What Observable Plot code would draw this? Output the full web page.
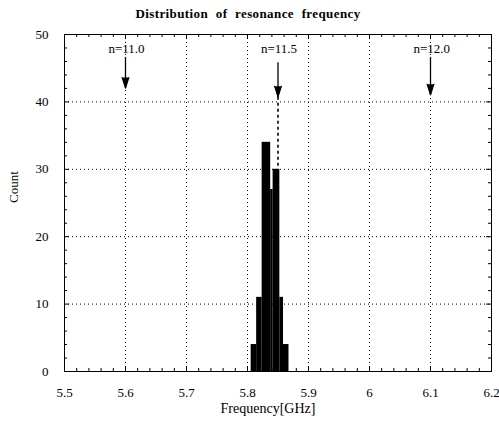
<!DOCTYPE html>
<html>
<head>
<meta charset="utf-8">
<script src="https://cdn.jsdelivr.net/npm/d3@7"></script>
<script src="https://cdn.jsdelivr.net/npm/@observablehq/plot@0.6"></script>
<style>
  html, body { margin: 0; padding: 0; background: #fff; }
  #chart svg { font-family: "Liberation Serif", "DejaVu Serif", serif; }
  #chart svg .title-text text { letter-spacing: 0.4px; word-spacing: 4px; }
</style>
</head>
<body>
<div id="chart"></div>
<script>
// ---- data ----
const title = "Distribution of resonance frequency";
const xLabel = "Frequency[GHz]";
const yLabel = "Count";
const binStart = [5.806, 5.815, 5.824, 5.838, 5.842, 5.853, 5.859];
const binEnd   = [5.815, 5.824, 5.838, 5.842, 5.853, 5.859, 5.868];
const counts   = [4, 11, 34, 27, 30, 11, 4];
const arrowLabels = ["n=11.0", "n=11.5", "n=12.0"];
const arrowX      = [5.6, 5.85, 6.1];
const arrowTop    = [46.6, 45.8, 46.6];
const arrowTip    = [42.0, 40.7, 41.0];
const xTicks = [5.5, 5.6, 5.7, 5.8, 5.9, 6.0, 6.1, 6.2];
const yTicks = [0, 10, 20, 30, 40, 50];
const xGrid = [5.6, 5.7, 5.8, 5.9, 6.0, 6.1];
const yGrid = [10, 20, 30, 40];
const xMinor = d3.range(0, 36).map(i => +(5.5 + i * 0.02).toFixed(2)).filter(v => !xTicks.some(t => Math.abs(t - v) < 1e-9));
const yMinor = d3.range(0, 26).map(i => i * 2).filter(v => v % 10 !== 0);

const bins = binStart.map((s, i) => ({x1: s, x2: binEnd[i], count: counts[i]}));
const arrows = arrowLabels.map((l, i) => ({label: l, x: arrowX[i], top: arrowTop[i], tip: arrowTip[i]}));

const W = 499, H = 432;
const mL = 64, mR = 8, mT = 34, mB = 61;
const pxX = (W - mL - mR) / 0.7;   // px per GHz
const pxY = (H - mT - mB) / 50;    // px per count
const tMaj = 5, tMin = 3;

const chart = Plot.plot({
  width: W, height: H,
  marginLeft: mL, marginRight: mR, marginTop: mT, marginBottom: mB,
  style: {fontFamily: "Liberation Serif, serif", fontSize: "13px", color: "black", background: "white"},
  x: {domain: [5.5, 6.2]},
  y: {domain: [0, 50]},
  marks: [
    // grid
    Plot.ruleX(xGrid, {x: d => d, stroke: "black", strokeWidth: 1, strokeDasharray: "1,3"}),
    Plot.ruleY(yGrid, {y: d => d, stroke: "black", strokeWidth: 1, strokeDasharray: "1,3"}),
    // histogram
    Plot.rectY(bins, {x1: "x1", x2: "x2", y: "count", fill: "black"}),
    // dashed line at n=11.5 down to bars
    Plot.ruleX([arrows[1]], {x: "x", y1: "tip", y2: d => counts[4], stroke: "black", strokeWidth: 1.6, strokeDasharray: "3,3"}),
    // arrows
    Plot.ruleX(arrows, {x: "x", y1: "top", y2: "tip", stroke: "black", strokeWidth: 1.3}),
    Plot.vector(arrows, {x: "x", y: "tip", length: 11, rotate: 180, anchor: "end", shape: "spike", r: 3.5, fill: "black", stroke: "black", strokeWidth: 1}),
    Plot.text(arrows, {x: "x", y: 47.9, text: "label", textAnchor: "start", dx: -17, fontSize: 13}),
    // inward ticks
    Plot.ruleX(xTicks, {x: d => d, y1: 0, y2: tMaj / pxY, stroke: "black"}),
    Plot.ruleX(xTicks, {x: d => d, y1: 50, y2: 50 - tMaj / pxY, stroke: "black"}),
    Plot.ruleX(xMinor, {x: d => d, y1: 0, y2: tMin / pxY, stroke: "black"}),
    Plot.ruleX(xMinor, {x: d => d, y1: 50, y2: 50 - tMin / pxY, stroke: "black"}),
    Plot.ruleY(yTicks, {y: d => d, x1: 5.5, x2: 5.5 + tMaj / pxX, stroke: "black"}),
    Plot.ruleY(yTicks, {y: d => d, x1: 6.2, x2: 6.2 - tMaj / pxX, stroke: "black"}),
    Plot.ruleY(yMinor, {y: d => d, x1: 5.5, x2: 5.5 + tMin / pxX, stroke: "black"}),
    Plot.ruleY(yMinor, {y: d => d, x1: 6.2, x2: 6.2 - tMin / pxX, stroke: "black"}),
    // axes (labels only)
    Plot.axisX({ticks: xTicks, tickSize: 0, tickPadding: 16, tickFormat: d => String(d), label: null, fontSize: 13}),
    Plot.axisY({ticks: yTicks, tickSize: 0, tickPadding: 16, label: null, fontSize: 13}),
    // axis titles and chart title
    Plot.text([xLabel], {frameAnchor: "bottom", text: d => d, dy: 37, dx: -10, lineAnchor: "middle", fontSize: 14}),
    Plot.text([yLabel], {frameAnchor: "left", text: d => d, dx: -51, rotate: -90, lineAnchor: "middle", fontSize: 13}),
    Plot.text([title], {frameAnchor: "top", text: d => d, dy: -21, dx: -30, lineAnchor: "middle", fontWeight: "bold", fontSize: 13, className: "title-text"}),
    Plot.frame({stroke: "black", strokeWidth: 1})
  ]
});
document.getElementById("chart").appendChild(chart);
</script>
</body>
</html>
